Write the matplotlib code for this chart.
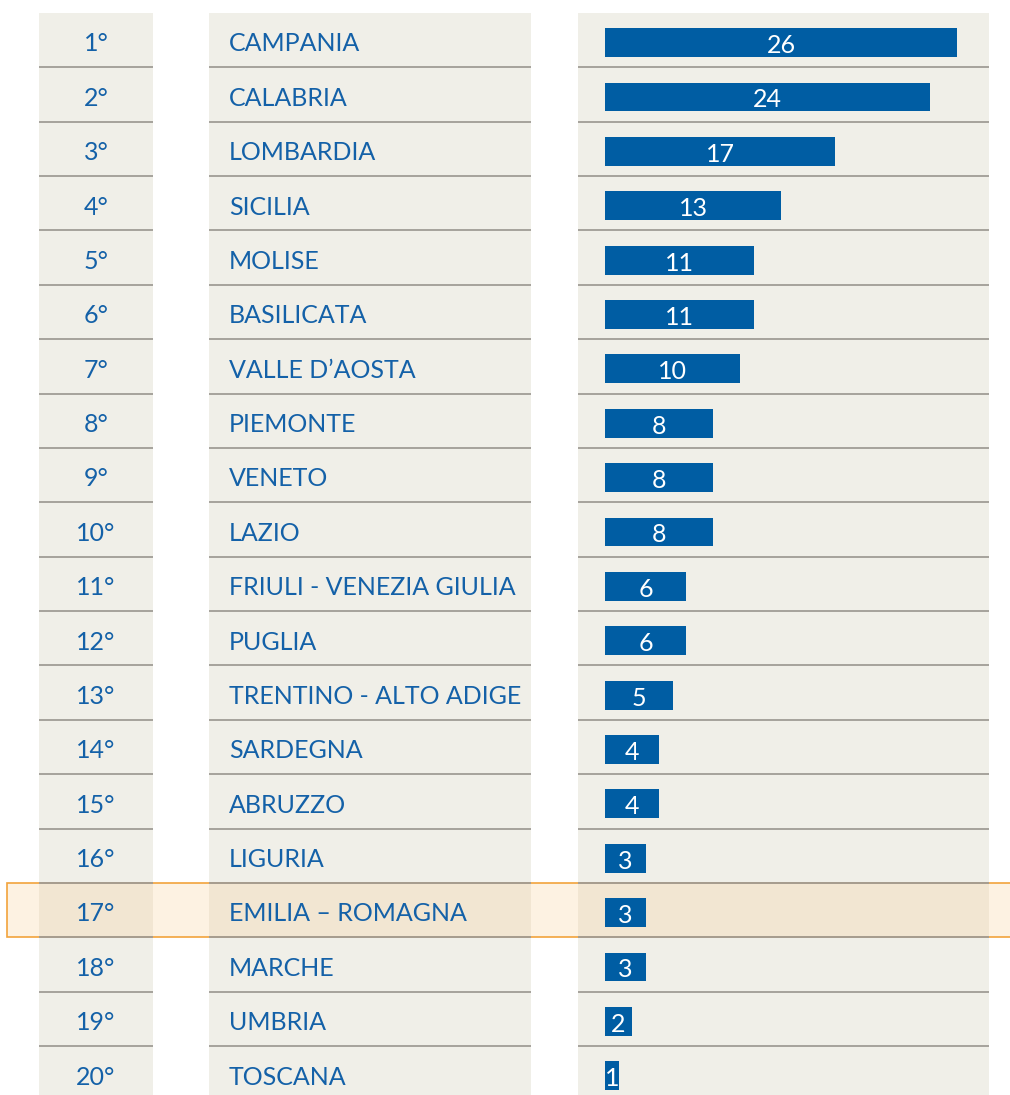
import matplotlib.pyplot as plt
from matplotlib.patches import Rectangle
from matplotlib.transforms import blended_transform_factory

plt.rcParams['font.family'] = ['Lato', 'DejaVu Sans']

ranks = ["1°", "2°", "3°", "4°", "5°", "6°", "7°", "8°", "9°", "10°",
         "11°", "12°", "13°", "14°", "15°", "16°", "17°", "18°", "19°", "20°"]
regions = ["CAMPANIA", "CALABRIA", "LOMBARDIA", "SICILIA", "MOLISE", "BASILICATA",
           "VALLE D’AOSTA", "PIEMONTE", "VENETO", "LAZIO", "FRIULI - VENEZIA GIULIA",
           "PUGLIA", "TRENTINO - ALTO ADIGE", "SARDEGNA", "ABRUZZO", "LIGURIA",
           "EMILIA – ROMAGNA", "MARCHE", "UMBRIA", "TOSCANA"]
values = [26, 24, 17, 13, 11, 11, 10, 8, 8, 8, 6, 6, 5, 4, 4, 3, 3, 3, 2, 1]
highlight = "EMILIA – ROMAGNA"

W, H = 1010, 1095
bg = "#F0EFE8"
txt = "#1461A8"
barc = "#005DA3"
sep = "#A09C96"

fig = plt.figure(figsize=(W / 100, H / 100), dpi=100)

# panels in pixels: left, right ; top at 13, runs to bottom
panels = [(39, 153), (209, 531), (578, 989)]
top = 13
axs = []
for (l, r) in panels:
    ax = fig.add_axes([l / W, 0, (r - l) / W, (H - top) / H])
    ax.set_facecolor("none")
    ax.axis("off")
    fig.patches.append(Rectangle((l / W, 0), (r - l) / W, (H - top) / H,
                                 transform=fig.transFigure, facecolor=bg,
                                 edgecolor="none", zorder=-2))
    axs.append(ax)

row_px = 54.37
n = len(values)
ymax = -0.5 + (H - top) / row_px
for ax in axs:
    ax.set_ylim(ymax, -0.5)
    for i in range(n - 1):
        ax.axhline(i + 0.5, color=sep, lw=1.3)

ax_rank, ax_name, ax_bar = axs
ax_rank.set_xlim(0, 1)
ax_name.set_xlim(0, panels[1][1] - panels[1][0])
# bar axis: 0 at 27 px inside the panel, 13.54 px per unit
ppu = 13.54
ax_bar.set_xlim(-27 / ppu, (panels[2][1] - panels[2][0] - 27) / ppu)

fs = 18
for i, (rk, name, v) in enumerate(zip(ranks, regions, values)):
    ax_rank.text(0.5, i + 0.07, rk, ha="center", va="center", fontsize=fs, color=txt)
    ax_name.text(20, i + 0.07, name, ha="left", va="center", fontsize=fs, color=txt)

bars = ax_bar.barh([i + 0.046 for i in range(n)], values, height=0.53, color=barc)
for i, v in enumerate(values):
    ax_bar.text(v / 2, i + 0.1, str(v), ha="center", va="center",
                fontsize=fs, color="white")

# highlighted row
hi = regions.index(highlight)
tr = blended_transform_factory(fig.transFigure, ax_bar.transData)
fig.patches.append(Rectangle((7 / W, hi - 0.5), 1.0, 1.0, transform=tr,
                             facecolor=(251 / 255, 207 / 255, 151 / 255, 0.27),
                             edgecolor="#F2A33C", lw=1.2, zorder=-1))

fig.savefig("out.png", dpi=100, facecolor="white")
